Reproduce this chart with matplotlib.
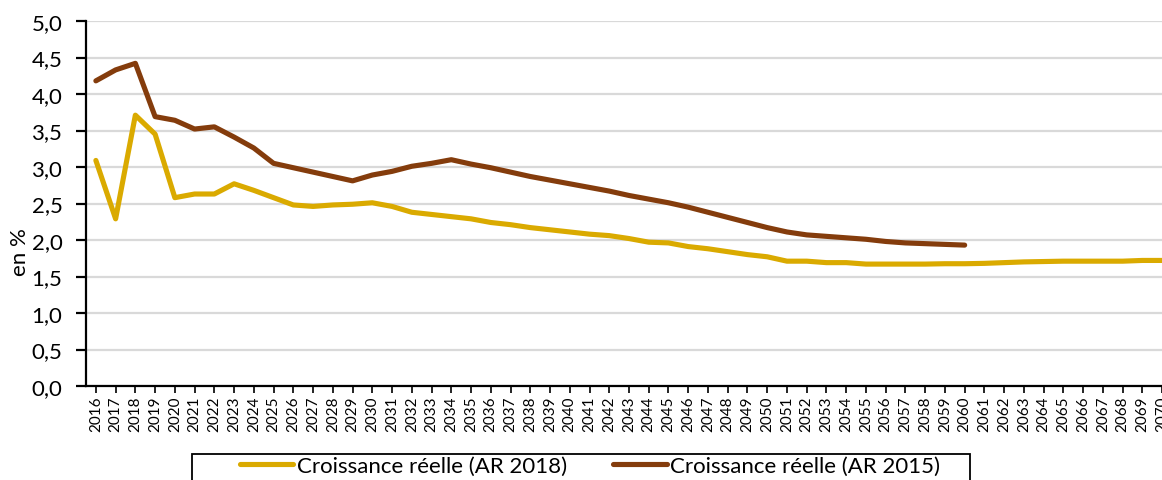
import matplotlib
matplotlib.use("Agg")
import matplotlib.pyplot as plt
from matplotlib.patches import Rectangle
from matplotlib.ticker import FixedLocator, FuncFormatter

plt.rcParams['font.family'] = ['Lato', 'DejaVu Sans']

years = list(range(2016, 2071))

# Croissance réelle, projections AR 2018 (2016-2070)
ar2018 = [3.09, 2.29, 3.71, 3.45, 2.58, 2.63, 2.63, 2.77, 2.68, 2.58,
          2.48, 2.46, 2.48, 2.49, 2.51, 2.46, 2.38, 2.35, 2.32, 2.29,
          2.24, 2.21, 2.17, 2.14, 2.11, 2.08, 2.06, 2.02, 1.97, 1.96,
          1.91, 1.88, 1.84, 1.80, 1.77, 1.71, 1.71, 1.69, 1.69, 1.67,
          1.67, 1.67, 1.67, 1.675, 1.675, 1.68, 1.69, 1.70, 1.705, 1.71,
          1.71, 1.71, 1.71, 1.72, 1.72]

# Croissance réelle, projections AR 2015 (2016-2060)
ar2015 = [4.18, 4.33, 4.42, 3.69, 3.64, 3.52, 3.55, 3.41, 3.26, 3.05,
          2.99, 2.93, 2.87, 2.81, 2.89, 2.94, 3.01, 3.05, 3.10, 3.04,
          2.99, 2.93, 2.87, 2.82, 2.77, 2.72, 2.67, 2.61, 2.56, 2.51,
          2.45, 2.38, 2.31, 2.24, 2.17, 2.11, 2.07, 2.05, 2.03, 2.01,
          1.98, 1.96, 1.95, 1.94, 1.93]

yticks = [0.0, 0.5, 1.0, 1.5, 2.0, 2.5, 3.0, 3.5, 4.0, 4.5, 5.0]

label_2018 = "Croissance réelle (AR 2018)"
label_2015 = "Croissance réelle (AR 2015)"
ylabel = "en %"

gold = "#DAAA00"
brown = "#843C0C"

W, H = 1162, 481
fig = plt.figure(figsize=(W / 100, H / 100), dpi=100)
# plot area; the category axis runs slightly past the right border
ax_left, ax_right, ax_top, ax_bottom = 86, 1172, 22, 387
ax = fig.add_axes([ax_left / W, 1 - ax_bottom / H,
                   (ax_right - ax_left) / W, (ax_bottom - ax_top) / H])

x18 = list(range(len(ar2018)))
x15 = list(range(len(ar2015)))
ax.plot(x18, ar2018, color=gold, lw=3.7, solid_capstyle='round',
        solid_joinstyle='round', label=label_2018, zorder=3)
ax.plot(x15, ar2015, color=brown, lw=3.7, solid_capstyle='round',
        solid_joinstyle='round', label=label_2015, zorder=3)

ax.set_xlim(-0.5, len(years) - 0.5)
ax.set_ylim(0, 5)
ax.yaxis.set_major_locator(FixedLocator(yticks))
ax.yaxis.set_major_formatter(FuncFormatter(lambda v, p: f"{v:.1f}".replace(".", ",")))
ax.set_xticks(range(len(years)))
ax.set_xticklabels([str(y) for y in years], rotation=90, fontsize=11)

ax.grid(axis='y', color='#D9D9D9', lw=1.6, zorder=0)
ax.set_axisbelow(True)
for s in ('top', 'right'):
    ax.spines[s].set_visible(False)
for s in ('left', 'bottom'):
    ax.spines[s].set_linewidth(1.6)
    ax.spines[s].set_color('black')

ax.tick_params(axis='y', direction='out', length=7, width=1.6, labelsize=16, pad=10)
ax.tick_params(axis='x', direction='out', length=5, width=1.2, pad=2)

fig.text(20 / W, 1 - 252 / H, ylabel, rotation=90, fontsize=16,
         ha='center', va='center')

# legend box (runs past the bottom border)
fig.patches.append(Rectangle((192 / W, 1 - 492 / H), (970 - 192) / W, 37 / H,
                             transform=fig.transFigure, fill=False,
                             edgecolor='black', lw=1.3))
leg = fig.legend(loc='center left', bbox_to_anchor=(240 / W, 1 - 467 / H),
                 ncol=2, frameon=False, fontsize=16,
                 handlelength=2.4, handletextpad=0.15, columnspacing=2.1,
                 borderpad=0, borderaxespad=0)
for h in leg.get_lines():
    h.set_linewidth(3.7)

fig.savefig("out.png", dpi=100)
